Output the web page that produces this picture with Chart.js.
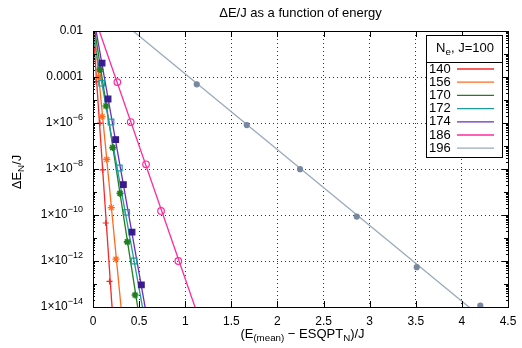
<!DOCTYPE html>
<html>
<head>
<meta charset="utf-8">
<title>ΔE/J as a function of energy</title>
<script src="https://cdn.jsdelivr.net/npm/chart.js"></script>
<style>
  body { margin: 0; background: #fff; }
  canvas { display: block; }
</style>
</head>
<body>
<canvas id="chart" width="522" height="348"></canvas>
<script>
// ----- values -----
const seriesLabels = ["140", "156", "170", "172", "174", "186", "196"];

// sampled points of each series
const pointX = [
  [0.033, 0.076, 0.105, 0.138, 0.179],
  [0.057, 0.098, 0.149, 0.198, 0.249],
  [0.076, 0.141, 0.214, 0.293, 0.372, 0.456],
  [0.094, 0.195, 0.285, 0.365, 0.445],
  [0.098, 0.163, 0.246, 0.329, 0.423, 0.524],
  [0.264, 0.409, 0.575, 0.738, 0.925],
  [1.125, 1.667, 2.245, 2.86, 3.51, 4.2]
];
const pointY = [
  [6.3e-5, 9.8e-7, 9.1e-9, 4.5e-11, 1.3e-13],
  [1.0e-4, 1.9e-6, 2.6e-8, 2.1e-10, 1.2e-12],
  [2.1e-4, 5.5e-6, 8.5e-8, 8.7e-10, 6.8e-12, 3.3e-14],
  [5.4e-5, 1.1e-6, 1.1e-8, 1.3e-10, 1.0e-12],
  [4.0e-4, 1.1e-5, 1.9e-7, 2.1e-9, 1.8e-11, 9.1e-14],
  [6.0e-5, 1.1e-6, 1.6e-8, 1.5e-10, 1.0e-12],
  [4.8e-5, 8.1e-7, 9.8e-9, 8.5e-11, 5.4e-13, 1.15e-14]
];

// straight fitted lines, two end points each
const fitX = [
  [0, 0.22], [0, 0.33], [0, 0.52], [0, 0.56], [0, 0.6], [0, 1.15], [0, 4.5]
];
const fitY = [
  [1.35e-2, 1.6e-15], [3.9e-2, 8.5e-16], [3.2e-2, 1.2e-15], [7e-3, 3e-15],
  [5.8e-2, 1.6e-15], [6.2e-2, 3.1e-15], [0.27, 4e-16]
];

const xTicks = [0, 0.5, 1, 1.5, 2, 2.5, 3, 3.5, 4, 4.5];
const xTickLabels = ["0", "0.5", "1", "1.5", "2", "2.5", "3", "3.5", "4", "4.5"];
const yTicks = [1e-2, 1e-4, 1e-6, 1e-8, 1e-10, 1e-12, 1e-14];
const yTickBase = ["0.01", "0.0001", "1×10", "1×10", "1×10", "1×10", "1×10"];
const yTickExp = ["", "", "−6", "−8", "−10", "−12", "−14"];

// ----- styles -----
const lineColors = ["#f42a2a", "#ff6a1e", "#1f7f1f", "#1c9c9c", "#6a2cc0", "#ff2a9e", "#9aaabb"];
const markColors = ["#f42a2a", "#ff6a1e", "#1f7f1f", "#1c9c9c", "#3a1a8c", "#ff2a9e", "#7888a0"];
const markStyles = ["cross", "star", "star", "rect", "rect", "circle", "circle"];
const markFilled = [false, false, false, false, true, false, true];
const markRadius = [3, 3.5, 3.5, 4, 4, 3.3, 2.5];
const font = "'Liberation Sans', Arial, sans-serif";

const datasets = [];
seriesLabels.forEach((lab, i) => {
  datasets.push({
    label: lab,
    data: fitX[i].map((x, k) => ({ x: x, y: fitY[i][k] })),
    showLine: true,
    borderColor: lineColors[i],
    borderWidth: 1.3,
    pointRadius: 0,
    order: 20 - i
  });
  datasets.push({
    label: lab + " pts",
    data: pointX[i].map((x, k) => ({ x: x, y: pointY[i][k] })),
    showLine: false,
    pointStyle: markStyles[i],
    pointRadius: markRadius[i],
    borderColor: markColors[i],
    backgroundColor: markFilled[i] ? markColors[i] : "rgba(0,0,0,0)",
    pointBorderWidth: i === 2 ? 1.6 : 1.2,
    order: 10 - i
  });
});

// draws text with sub/superscript pieces: parts = [[text, shift], ...]
function richWidth(ctx, parts, size) {
  let w = 0;
  parts.forEach(p => {
    ctx.font = (p[1] ? size * 0.75 : size) + "px " + font;
    w += ctx.measureText(p[0]).width;
  });
  return w;
}
function richText(ctx, parts, x, y, size) {
  let cx = x;
  parts.forEach(p => {
    ctx.font = (p[1] ? size * 0.75 : size) + "px " + font;
    ctx.fillText(p[0], cx, y + p[1]);
    cx += ctx.measureText(p[0]).width;
  });
}

const decor = {
  id: "decor",
  afterDatasetsDraw(chart) {
    const ctx = chart.ctx;
    const a = chart.chartArea;
    const xs = chart.scales.x, ys = chart.scales.y;
    ctx.save();
    ctx.strokeStyle = "#000";
    ctx.lineWidth = 1;
    ctx.setLineDash([]);

    // frame
    ctx.strokeRect(Math.round(a.left) + 0.5, Math.round(a.top) + 0.5,
      Math.round(a.right - a.left), Math.round(a.bottom - a.top));

    // x ticks, inward on both sides
    ctx.beginPath();
    xTicks.forEach(v => {
      const px = Math.round(xs.getPixelForValue(v)) + 0.5;
      ctx.moveTo(px, a.bottom); ctx.lineTo(px, a.bottom - 6);
      ctx.moveTo(px, a.top); ctx.lineTo(px, a.top + 6);
    });
    // y ticks: decades and minor
    for (let e = -14; e <= -2; e++) {
      for (let m = 1; m <= 9; m++) {
        const v = m * Math.pow(10, e);
        if (v > 1e-2 * 1.0001) break;
        const py = Math.round(ys.getPixelForValue(v)) + 0.5;
        const len = m === 1 ? (e % 2 === 0 ? 6 : 4) : 2;
        ctx.moveTo(a.left, py); ctx.lineTo(a.left + len, py);
        ctx.moveTo(a.right, py); ctx.lineTo(a.right - len, py);
      }
    }
    ctx.stroke();

    ctx.fillStyle = "#000";
    ctx.textBaseline = "middle";
    // x tick labels
    ctx.textAlign = "center";
    ctx.font = "12px " + font;
    xTicks.forEach((v, i) => {
      ctx.fillText(xTickLabels[i], xs.getPixelForValue(v), a.bottom + 15);
    });
    // y tick labels
    ctx.textAlign = "left";
    yTicks.forEach((v, i) => {
      const parts = [[yTickBase[i], 0]];
      if (yTickExp[i]) parts.push([yTickExp[i], -5]);
      const w = richWidth(ctx, parts, 12);
      richText(ctx, parts, a.left - 10 - w, ys.getPixelForValue(v), 12);
    });

    // title
    ctx.textAlign = "center";
    ctx.font = "13px " + font;
    ctx.fillText("ΔE/J as a function of energy", (a.left + a.right) / 2, 13);

    // x axis title
    ctx.textAlign = "left";
    const xt = [["(E", 0], ["(mean)", 4], [" − ESQPT", 0], ["N", 4], [")/J", 0]];
    const xw = richWidth(ctx, xt, 13);
    richText(ctx, xt, (a.left + a.right) / 2 + 2 - xw / 2, 334, 13);

    // y axis title
    ctx.save();
    ctx.translate(17, (a.top + a.bottom) / 2 + 3);
    ctx.rotate(-Math.PI / 2);
    const yt = [["ΔE", 0], ["N", 4], ["/J", 0]];
    const yw = richWidth(ctx, yt, 13);
    richText(ctx, yt, -yw / 2, 0, 13);
    ctx.restore();

    // legend box
    const lx = 426, ly = 35, lw = 76, lh = 122;
    ctx.fillStyle = "#fff";
    ctx.fillRect(lx, ly, lw, lh);
    ctx.strokeStyle = "#000";
    ctx.strokeRect(lx + 0.5, ly + 0.5, lw, lh);
    ctx.beginPath();
    ctx.moveTo(lx, ly + 27.5); ctx.lineTo(lx + lw, ly + 27.5);
    ctx.stroke();
    ctx.fillStyle = "#000";
    const lt = [["N", 0], ["e", 4], [", J=100", 0]];
    const ltw = richWidth(ctx, lt, 13);
    richText(ctx, lt, lx + lw / 2 - ltw / 2 + 1, ly + 13, 13);
    seriesLabels.forEach((lab, i) => {
      const y = ly + 34 + i * 13.2;
      ctx.font = "13px " + font;
      ctx.fillStyle = "#000";
      ctx.fillText(lab, lx + 3, y);
      ctx.strokeStyle = lineColors[i];
      ctx.lineWidth = 1.3;
      ctx.beginPath();
      ctx.moveTo(lx + 31, y); ctx.lineTo(lx + 68, y);
      ctx.stroke();
    });
    ctx.restore();
  }
};

new Chart(document.getElementById("chart").getContext("2d"), {
  type: "scatter",
  data: { datasets: datasets },
  options: {
    responsive: false,
    animation: false,
    devicePixelRatio: 1,
    layout: { padding: { left: 93, right: 14, top: 31, bottom: 41 } },
    plugins: { legend: { display: false }, title: { display: false }, tooltip: { enabled: false } },
    scales: {
      x: {
        type: "linear",
        min: 0, max: 4.5,
        afterBuildTicks: s => { s.ticks = xTicks.map(v => ({ value: v })); },
        ticks: { display: false },
        grid: { color: "#333", lineWidth: 1, drawTicks: false },
        border: { display: false, dash: [1, 3] }
      },
      y: {
        type: "logarithmic",
        min: 1e-14, max: 1e-2,
        afterBuildTicks: s => { s.ticks = yTicks.map(v => ({ value: v })); },
        ticks: { display: false },
        grid: { color: "#333", lineWidth: 1, drawTicks: false },
        border: { display: false, dash: [1, 3] }
      }
    }
  },
  plugins: [decor]
});
</script>
</body>
</html>
